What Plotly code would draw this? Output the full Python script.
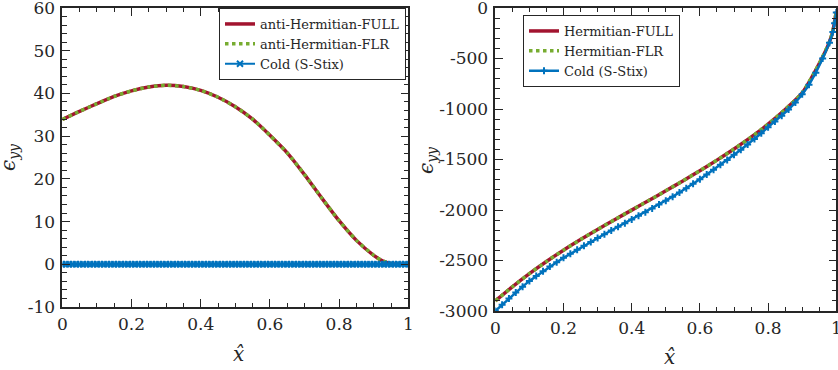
import numpy as np
import plotly.graph_objects as go

# ---------------- data ----------------
# Left panel: anti-Hermitian part of eps_yy
x_ah = [0.0, 0.05, 0.1, 0.15, 0.2, 0.25, 0.3, 0.35, 0.4, 0.45, 0.5,
        0.55, 0.6, 0.65, 0.7, 0.75, 0.8, 0.85, 0.9, 0.925, 0.95, 0.975, 1.0]
ah_full = [33.9, 35.8, 37.6, 39.3, 40.6, 41.5, 41.9, 41.6, 40.7, 39.1, 36.9,
           34.0, 30.2, 26.1, 21.0, 15.5, 10.2, 5.6, 2.1, 0.8, 0.15, 0.0, 0.0]
ah_flr = [33.9, 35.8, 37.6, 39.3, 40.6, 41.5, 41.9, 41.6, 40.7, 39.1, 36.9,
          34.0, 30.2, 26.1, 21.0, 15.5, 10.2, 5.6, 2.1, 0.8, 0.15, 0.0, 0.0]
x_cold_left = list(np.round(np.linspace(0, 1, 101), 3))
ah_cold = [0.0] * 101

# Right panel: Hermitian part of eps_yy
x_h = [0.0, 0.05, 0.1, 0.15, 0.2, 0.25, 0.3, 0.35, 0.4, 0.45, 0.5, 0.55,
       0.6, 0.65, 0.7, 0.75, 0.8, 0.85, 0.9, 0.95, 0.98, 0.99, 1.0]
h_full = [-2900, -2760, -2630, -2510, -2398, -2293, -2193, -2096, -2001, -1906,
          -1810, -1712, -1611, -1506, -1396, -1279, -1150, -1005, -840, -550,
          -335, -225, -35]
h_flr = [-2900, -2760, -2630, -2510, -2398, -2293, -2193, -2096, -2001, -1906,
         -1810, -1712, -1611, -1506, -1396, -1279, -1150, -1005, -840, -550,
         -335, -225, -35]
x_cold_right = [0.0, 0.02, 0.04, 0.06, 0.08, 0.10, 0.12, 0.14, 0.16, 0.18,
                0.20, 0.22, 0.24, 0.26, 0.28, 0.30, 0.32, 0.34, 0.36, 0.38,
                0.40, 0.42, 0.44, 0.46, 0.48, 0.50, 0.52, 0.54, 0.56, 0.58,
                0.60, 0.62, 0.64, 0.66, 0.68, 0.70, 0.72, 0.74, 0.76, 0.78,
                0.80, 0.82, 0.84, 0.86, 0.88, 0.90, 0.92, 0.94, 0.96, 0.98,
                0.99, 0.995, 1.0]
h_cold = [-3000, -2938, -2876, -2816, -2759, -2702, -2654, -2606, -2560, -2517,
          -2474, -2434, -2394, -2354, -2316, -2277, -2240, -2203, -2166, -2130,
          -2094, -2058, -2022, -1984, -1946, -1908, -1868, -1827, -1785, -1741,
          -1696, -1649, -1602, -1553, -1504, -1454, -1403, -1351, -1297, -1240,
          -1180, -1124, -1066, -1005, -935, -855, -760, -640, -500, -345,
          -238, -150, -45]

x_tickvals = [0, 0.2, 0.4, 0.6, 0.8, 1]
x_ticktext = ["0", "0.2", "0.4", "0.6", "0.8", "1"]
yl_tickvals = [-10, 0, 10, 20, 30, 40, 50, 60]
yl_ticktext = ["-10", "0", "10", "20", "30", "40", "50", "60"]
yr_tickvals = [-3000, -2500, -2000, -1500, -1000, -500, 0]
yr_ticktext = ["-3000", "-2500", "-2000", "-1500", "-1000", "-500", "0"]

names_left = ["anti-Hermitian-FULL", "anti-Hermitian-FLR", "Cold (S-Stix)"]
names_right = ["Hermitian-FULL", "Hermitian-FLR", "Cold (S-Stix)"]

# ---------------- style ----------------
RED = "#A2142F"
GREEN = "#77AC30"
BLUE = "#0072BD"
AX = "#262626"
FONT = "DejaVu Serif"
W, H = 838, 370

fig = go.Figure()

# left panel
fig.add_trace(go.Scatter(x=x_ah, y=ah_full, mode="lines", name=names_left[0],
                         line=dict(color=RED, width=3.5, shape="spline", smoothing=0.6),
                         xaxis="x", yaxis="y", legend="legend"))
fig.add_trace(go.Scatter(x=x_ah, y=ah_flr, mode="lines", name=names_left[1],
                         line=dict(color=GREEN, width=3.5, dash="dot", shape="spline", smoothing=0.6),
                         xaxis="x", yaxis="y", legend="legend"))
fig.add_trace(go.Scatter(x=x_cold_left, y=ah_cold, mode="lines+markers", name=names_left[2],
                         line=dict(color=BLUE, width=2),
                         marker=dict(symbol="x-thin", size=6, color=BLUE,
                                     line=dict(color=BLUE, width=2)),
                         xaxis="x", yaxis="y", legend="legend"))

# right panel
fig.add_trace(go.Scatter(x=x_h, y=h_full, mode="lines", name=names_right[0],
                         line=dict(color=RED, width=3.5, shape="spline", smoothing=0.6),
                         xaxis="x2", yaxis="y2", legend="legend2"))
fig.add_trace(go.Scatter(x=x_h, y=h_flr, mode="lines", name=names_right[1],
                         line=dict(color=GREEN, width=3.5, dash="dot", shape="spline", smoothing=0.6),
                         xaxis="x2", yaxis="y2", legend="legend2"))
fig.add_trace(go.Scatter(x=x_cold_right, y=h_cold, mode="lines+markers", name=names_right[2],
                         line=dict(color=BLUE, width=2.5),
                         marker=dict(symbol="cross-thin", size=5, color=BLUE,
                                     line=dict(color=BLUE, width=2)),
                         xaxis="x2", yaxis="y2", legend="legend2"))

tickfont = dict(family=FONT, size=17, color=AX)


def xaxis(domain, anchor):
    return dict(domain=domain, anchor=anchor, range=[0, 1], automargin=False,
                tickmode="array", tickvals=x_tickvals, ticktext=x_ticktext,
                ticks="inside", ticklen=8, tickwidth=1.2, tickcolor=AX,
                minor=dict(tickmode="linear", tick0=0, dtick=0.05, ticks="inside",
                           ticklen=4.5, tickwidth=1, tickcolor=AX),
                showline=True, linecolor=AX, linewidth=1.5, mirror="ticks",
                showgrid=False, zeroline=False, tickfont=tickfont,
                ticklabelstandoff=1, ticklabeloverflow="allow")


def yaxis(domain, anchor, rng, tv, tt, minor_dt):
    return dict(domain=domain, anchor=anchor, range=rng, automargin=False,
                tickmode="array", tickvals=tv, ticktext=tt,
                ticks="inside", ticklen=8, tickwidth=1.2, tickcolor=AX,
                minor=dict(tickmode="linear", tick0=0, dtick=minor_dt, ticks="inside",
                           ticklen=4.5, tickwidth=1, tickcolor=AX),
                showline=True, linecolor=AX, linewidth=1.5, mirror="ticks",
                showgrid=False, zeroline=False, tickfont=tickfont,
                ticklabelstandoff=2, ticklabeloverflow="allow")


yl_dom = [1 - 307 / H, 1 - 8 / H]
yr_dom = [1 - 311 / H, 1 - 8 / H]

legend_common = dict(bgcolor="white", bordercolor=AX, borderwidth=1,
                     font=dict(family=FONT, size=13, color=AX),
                     itemwidth=30, tracegroupgap=0)

fig.update_layout(
    width=W, height=H, autosize=False,
    margin=dict(l=0, r=0, t=0, b=0, autoexpand=False),
    paper_bgcolor="white", plot_bgcolor="white",
    font=dict(family=FONT, color=AX),
    xaxis=xaxis([62.3 / W, 408.3 / W], "y"),
    yaxis=yaxis(yl_dom, "x", [-10, 60], yl_tickvals, yl_ticktext, 2),
    xaxis2=xaxis([495.3 / W, 836.3 / W], "y2"),
    yaxis2=yaxis(yr_dom, "x2", [-3000, 0], yr_tickvals, yr_ticktext, 100),
    legend=dict(x=406 / W, y=1 - 8 / H, xanchor="right", yanchor="top", **legend_common),
    legend2=dict(x=523 / W, y=1 - 15 / H, xanchor="left", yanchor="top", **legend_common),
    showlegend=True,
)

title_font = dict(family=FONT, size=20, color=AX)
ann = [
    dict(text="<i>ϵ</i><sub><i>yy</i></sub>", x=9 / W, y=1 - 157 / H, textangle=-90),
    dict(text="<i>ϵ</i><sub><i>yy</i></sub>", x=427 / W, y=1 - 160 / H, textangle=-90),
    dict(text="<i>x\u0302</i>", x=238 / W, y=1 - 354 / H, textangle=0),
    dict(text="<i>x\u0302</i>", x=669 / W, y=1 - 357 / H, textangle=0),
]
for a in ann:
    fig.add_annotation(xref="paper", yref="paper", showarrow=False,
                       xanchor="center", yanchor="middle", font=title_font, **a)

fig.write_html("out.html",
               config={"displayModeBar": False},
               post_script="document.body.style.margin='0';document.body.style.padding='0';")
